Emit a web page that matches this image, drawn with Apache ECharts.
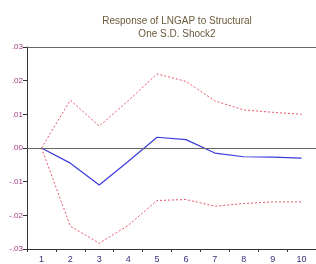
<!DOCTYPE html>
<html>
<head>
<meta charset="utf-8">
<script src="https://cdn.jsdelivr.net/npm/echarts@6/dist/echarts.min.js"></script>
<style>
html, body { margin: 0; padding: 0; background: #fff; }
#chart { width: 316px; height: 264px; }
</style>
</head>
<body>
<div id="chart"></div>
<script>
var periods = ['1', '2', '3', '4', '5', '6', '7', '8', '9', '10'];
var response = [0, -0.0045, -0.011, -0.004, 0.0032, 0.0025, -0.0015, -0.0026, -0.0027, -0.003];
var upperBand = [0, 0.0142, 0.0065, 0.014, 0.022, 0.0198, 0.014, 0.0113, 0.0106, 0.0100];
var lowerBand = [0, -0.0232, -0.0283, -0.023, -0.0156, -0.0153, -0.0173, -0.0165, -0.016, -0.016];

var chart = echarts.init(document.getElementById('chart'));

function bandSeries(name, data) {
    return {
        name: name,
        type: 'line',
        data: data,
        symbol: 'none',
        silent: true,
        lineStyle: { color: '#e8566a', width: 1, type: [2, 2] }
    };
}

chart.setOption({
    animation: false,
    backgroundColor: '#fff',
    title: {
        text: 'Response of LNGAP to Structural\nOne S.D. Shock2',
        left: 172,
        top: 10,
        textAlign: 'center',
        textStyle: {
            fontFamily: 'Liberation Sans',
            fontSize: 10,
            fontWeight: 'normal',
            color: '#6b5a3a',
            lineHeight: 13
        }
    },
    grid: { left: 27, right: 0, top: 47, bottom: 14 },
    xAxis: {
        type: 'category',
        data: periods,
        boundaryGap: true,
        axisLine: { onZero: false, lineStyle: { color: '#333', width: 1 } },
        axisTick: { show: true, length: 3, lineStyle: { color: '#333' } },
        axisLabel: { color: '#3a2f7a', fontSize: 9, fontFamily: 'Liberation Sans', margin: 6 }
    },
    yAxis: {
        type: 'value',
        min: -0.03,
        max: 0.03,
        interval: 0.01,
        axisLine: { show: true, lineStyle: { color: '#333', width: 1 } },
        axisTick: { show: true, length: 4, lineStyle: { color: '#333' } },
        splitLine: { show: false },
        axisLabel: {
            color: '#a03a80',
            fontSize: 8,
            fontFamily: 'Liberation Sans',
            margin: 4,
            formatter: function (v) {
                var s = Math.abs(v).toFixed(2).replace(/^0/, '');
                return (v < -0.0001 ? '-' : '') + s;
            }
        }
    },
    series: [
        bandSeries('upper', upperBand),
        bandSeries('lower', lowerBand),
        {
            name: 'response',
            type: 'line',
            data: response,
            symbol: 'none',
            lineStyle: { color: '#3b3bdc', width: 1.2 },
            markLine: {
                silent: true,
                symbol: 'none',
                label: { show: false },
                lineStyle: { color: '#666', width: 1, type: 'solid' },
                data: [{ yAxis: 0 }, { yAxis: 0.03 }]
            }
        }
    ]
});
</script>
</body>
</html>
